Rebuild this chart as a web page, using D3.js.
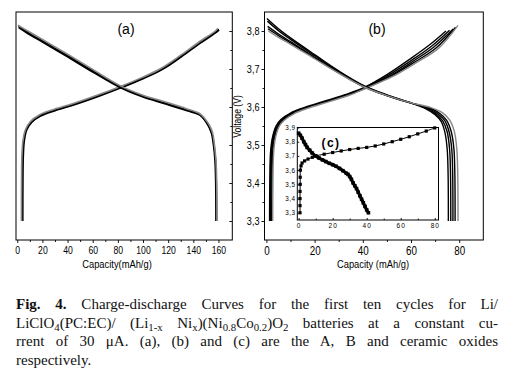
<!DOCTYPE html>
<html>
<head>
<meta charset="utf-8">
<script src="https://cdn.jsdelivr.net/npm/d3@7"></script>
<style>
  body { margin: 0; background: #fff; }
  #wrap { position: relative; width: 506px; height: 384px; overflow: hidden; }
  svg { position: absolute; left: 0; top: 0; font-family: "Liberation Sans", Arial, sans-serif; }
  .cap {
    position: absolute; left: 16px; width: 482px;
    font-family: "Liberation Serif", "Times New Roman", serif;
    font-size: 15px; line-height: 18.7px; color: #111;
    text-align: justify; text-align-last: justify;
  }
  .cap.last { text-align-last: left; }
  .cap sub { font-size: 0.72em; vertical-align: -0.3em; line-height: 0; }
</style>
</head>
<body>
<div id="wrap"></div>
<script>
// tick values
const ticksXA = [0, 20, 40, 60, 80, 100, 120, 140, 160];
const minorXA = [10, 30, 50, 70, 90, 110, 130, 150];
const ticksXB = [0, 20, 40, 60, 80];
const minorXB = [10, 30, 50, 70];
const ticksV = [3.3, 3.4, 3.5, 3.6, 3.7, 3.8];
const minorV = [3.35, 3.45, 3.55, 3.65, 3.75];
const ticksXC = [0, 20, 40, 60, 80];
const minorXC = [10, 30, 50, 70];
const ticksVC = [3.3, 3.4, 3.5, 3.6, 3.7, 3.8, 3.9];

// panel (a): [capacity mAh/g, voltage V], one array per cycle
const chargeA = [
  [[3.8,3.30],[3.9,3.40],[4.2,3.47],[5,3.51],[7,3.54],[11,3.56],[18,3.577],[30,3.592],[45,3.607],[65,3.630],[82.5,3.652],[100,3.676],[115,3.70],[130,3.733],[145,3.769],[158,3.798],[160,3.805]],
  [[4.4,3.30],[4.5,3.40],[4.8,3.47],[5.6,3.51],[7.6,3.54],[11.6,3.56],[18.5,3.576],[30.5,3.591],[45.5,3.606],[65.5,3.629],[83,3.651],[100.5,3.675],[115.5,3.699],[130.5,3.732],[145.5,3.768],[158.5,3.797],[160.5,3.803]],
  [[3.3,3.30],[3.4,3.40],[3.7,3.47],[4.5,3.51],[6.5,3.54],[10.5,3.562],[17.5,3.579],[29.5,3.594],[44.5,3.609],[64.5,3.632],[82,3.654],[99.5,3.678],[114.5,3.702],[129.5,3.735],[144.5,3.771],[157.5,3.800],[159.5,3.807]]
];
const dischargeA = [
  [[0.8,3.812],[10,3.793],[20,3.774],[40,3.735],[60,3.695],[82.5,3.652],[100,3.628],[118,3.610],[135,3.592],[145,3.580],[149,3.566],[152,3.550],[154.5,3.530],[156,3.50],[157.2,3.46],[157.8,3.40],[158,3.30]],
  [[1.2,3.809],[10,3.790],[20,3.771],[40,3.732],[60,3.692],[82.5,3.650],[100,3.626],[118,3.608],[135,3.590],[145.5,3.578],[149.5,3.564],[152.5,3.548],[155,3.528],[156.5,3.50],[157.7,3.46],[158.3,3.40],[158.5,3.30]],
  [[0.5,3.815],[10,3.797],[20,3.778],[40,3.739],[60,3.699],[82.5,3.655],[100,3.631],[118,3.613],[135,3.595],[145,3.583],[149.5,3.568],[152.8,3.552],[155.3,3.532],[156.8,3.50],[158,3.46],[158.6,3.40],[158.8,3.30]]
];

// panel (b)
const chargeB = [
  [[1.3,3.30],[1.4,3.40],[1.7,3.48],[2.5,3.52],[4,3.55],[6,3.567],[10,3.584],[15,3.597],[25,3.617],[33,3.633],[40.8,3.652],[50,3.685],[60,3.728],[68,3.765],[74.5,3.800]],
  [[1.8,3.30],[1.9,3.40],[2.2,3.48],[3,3.52],[4.5,3.55],[6.5,3.566],[10.5,3.583],[15.5,3.596],[25.5,3.616],[33.5,3.632],[41,3.651],[50.5,3.683],[60.5,3.724],[68.5,3.760],[76,3.802]],
  [[2.2,3.30],[2.3,3.40],[2.6,3.48],[3.4,3.52],[5,3.55],[7,3.566],[11,3.583],[16,3.596],[26,3.616],[34,3.632],[41.2,3.651],[51,3.681],[61,3.721],[69.5,3.758],[77.5,3.805]],
  [[1.6,3.30],[1.7,3.40],[2,3.48],[2.8,3.52],[4.3,3.55],[6.3,3.566],[10.3,3.583],[15.3,3.596],[25.3,3.616],[33.3,3.632],[41.3,3.650],[51.5,3.680],[61.5,3.718],[70.5,3.756],[78.5,3.810]],
  [[2.6,3.30],[2.7,3.40],[3,3.48],[3.8,3.52],[5.4,3.55],[7.4,3.565],[11.4,3.582],[16.4,3.595],[26.4,3.615],[34.4,3.631],[41.5,3.650],[52,3.679],[62,3.716],[71.5,3.755],[79.5,3.815]]
];
const dischargeB = [
  [[0.2,3.833],[5,3.806],[10,3.782],[20,3.738],[30,3.695],[40.8,3.655],[50,3.632],[60,3.611],[66,3.596],[70,3.580],[72.5,3.562],[74,3.535],[75,3.49],[75.4,3.42],[75.5,3.30]],
  [[0.4,3.826],[5,3.801],[10,3.778],[20,3.735],[30,3.693],[40.8,3.654],[50,3.631],[60,3.611],[66.5,3.597],[70.5,3.581],[73.2,3.563],[75,3.535],[76,3.49],[76.4,3.42],[76.5,3.30]],
  [[0.5,3.812],[5,3.792],[10,3.772],[20,3.731],[30,3.691],[40.8,3.653],[50,3.630],[60,3.610],[67,3.597],[71.2,3.582],[74,3.564],[75.8,3.535],[76.9,3.49],[77.3,3.42],[77.4,3.30]],
  [[0.6,3.806],[5,3.788],[10,3.769],[20,3.729],[30,3.690],[40.8,3.652],[50,3.630],[60,3.610],[67.5,3.598],[72,3.583],[74.8,3.565],[76.7,3.535],[77.8,3.49],[78.2,3.42],[78.3,3.30]],
  [[0.8,3.800],[5,3.783],[10,3.765],[20,3.727],[30,3.689],[40.8,3.652],[50,3.630],[60,3.611],[68,3.599],[73,3.585],[76,3.566],[78,3.535],[79,3.49],[79.4,3.42],[79.5,3.30]]
];

// inset (c)
const chargeC = [[0.8,3.30],[0.8,3.35],[0.8,3.40],[0.8,3.45],[0.9,3.50],[0.9,3.55],[1.0,3.60],[1.4,3.63],[2,3.65],[3.5,3.665],[5.5,3.678],[8,3.69],[10,3.70],[15,3.712],[20,3.724],[25,3.735],[30,3.745],[35,3.753],[40,3.760],[45,3.770],[50,3.784],[55,3.800],[60,3.817],[65,3.835],[70,3.855],[75,3.875],[80,3.897]];
const dischargeC = [[0,3.86],[1,3.845],[2,3.825],[3,3.80],[4,3.78],[5,3.76],[6.5,3.74],[8,3.72],[10,3.70],[12,3.685],[14,3.672],[16,3.66],[18,3.648],[20,3.638],[22,3.627],[24,3.612],[26,3.596],[28,3.578],[29,3.57],[30,3.555],[31,3.535],[32,3.51],[33,3.49],[34,3.47],[35,3.445],[36,3.42],[37,3.395],[38,3.37],[39,3.345],[40,3.32],[41,3.30]];

const W = 506, H = 384;
const comma = d3.formatLocale({ decimal: ",", thousands: ".", grouping: [3], currency: ["", ""] }).format(".1f");

const svg = d3.select("#wrap").append("svg").attr("width", W).attr("height", H);
svg.append("rect").attr("width", W).attr("height", H).attr("fill", "#fff");

// frames
const frameA = { x0: 16, x1: 232.3, y0: 12, y1: 240 };
const frameB = { x0: 264.5, x1: 483.3, y0: 12, y1: 240 };
const frameC = { x0: 297.3, x1: 438.5, y0: 127.5, y1: 220 };

// scales
const xA = d3.scaleLinear().domain([-1, 171]).range([frameA.x0, frameA.x1]);
const xB = d3.scaleLinear().domain([-0.8, 90]).range([frameB.x0, frameB.x1]);
const yV = d3.scaleLinear().domain([3.25, 3.85]).range([240, 12]);
const xC = d3.scaleLinear().domain([-0.8, 82.2]).range([frameC.x0, frameC.x1]);
const yC = d3.scaleLinear().domain([3.249, 3.9]).range([frameC.y1, frameC.y0]);

function lineOf(x, y) {
  return d3.line().x(d => x(d[0])).y(d => y(d[1])).curve(d3.curveCatmullRom.alpha(0.5));
}

function cleanAxis(g) {
  g.select(".domain").remove();
  g.selectAll(".tick line").attr("stroke", "#000").attr("stroke-width", 0.9);
  g.selectAll("text").attr("fill", "#000");
}

// condensed look of the original labels
function narrowLabels(sel, size, sx) {
  sel.selectAll("text").attr("font-size", size)
    .attr("transform", `scale(${sx},1)`);
}

function title(g, x, y, txt, size, rot) {
  g.append("text")
    .attr("transform", `translate(${x},${y})${rot ? " rotate(-90)" : ""} scale(0.82,1)`)
    .attr("text-anchor", "middle").attr("font-size", size).attr("fill", "#000")
    .text(txt);
}

// ---- panel (a)
const pa = svg.append("g");
const lineA = lineOf(xA, yV);
pa.selectAll("path.ca").data(chargeA).join("path")
  .attr("class", "ca").attr("d", lineA).attr("fill", "none")
  .attr("stroke", (d, i) => i === 2 ? "#888" : "#000").attr("stroke-width", 1.6);
pa.selectAll("path.da").data(dischargeA).join("path")
  .attr("class", "da").attr("d", lineA).attr("fill", "none")
  .attr("stroke", (d, i) => i === 2 ? "#888" : "#000").attr("stroke-width", 1.6);

pa.append("g")
  .attr("transform", `translate(0,${frameA.y1})`)
  .call(d3.axisBottom(xA).tickValues(ticksXA).tickSize(3).tickPadding(3))
  .call(cleanAxis)
  .call(narrowLabels, 10.8, 0.8);
pa.append("g").attr("transform", `translate(0,${frameA.y1})`)
  .call(d3.axisBottom(xA).tickValues(minorXA).tickSize(2).tickFormat(""))
  .call(cleanAxis);
pa.append("g").attr("transform", `translate(${frameA.x1},0)`)
  .call(d3.axisLeft(yV).tickValues(ticksV).tickSize(3).tickFormat(""))
  .call(cleanAxis);
pa.append("g").attr("transform", `translate(${frameA.x1},0)`)
  .call(d3.axisLeft(yV).tickValues(minorV).tickSize(2).tickFormat(""))
  .call(cleanAxis);
pa.append("rect")
  .attr("x", frameA.x0).attr("y", frameA.y0)
  .attr("width", frameA.x1 - frameA.x0).attr("height", frameA.y1 - frameA.y0)
  .attr("fill", "none").attr("stroke", "#000").attr("stroke-width", 1);
pa.append("text").attr("x", 126).attr("y", 34).attr("text-anchor", "middle")
  .attr("font-size", 14).text("(a)");
title(pa, 117, 268, "Capacity(mAh/g)", 11.4);

// ---- panel (b)
const pb = svg.append("g");
const lineB = lineOf(xB, yV);
pb.selectAll("path.cb").data(chargeB).join("path")
  .attr("class", "cb").attr("d", lineB).attr("fill", "none")
  .attr("stroke", (d, i) => i === 4 ? "#888" : "#000").attr("stroke-width", 1.4);
pb.selectAll("path.db").data(dischargeB).join("path")
  .attr("class", "db").attr("d", lineB).attr("fill", "none")
  .attr("stroke", (d, i) => i === 4 ? "#888" : "#000").attr("stroke-width", 1.4);

pb.append("g")
  .attr("transform", `translate(0,${frameB.y1})`)
  .call(d3.axisBottom(xB).tickValues(ticksXB).tickSize(3).tickPadding(3))
  .call(cleanAxis)
  .call(narrowLabels, 12, 0.82);
pb.append("g").attr("transform", `translate(0,${frameB.y1})`)
  .call(d3.axisBottom(xB).tickValues(minorXB).tickSize(2).tickFormat(""))
  .call(cleanAxis);
const yAxisB = pb.append("g")
  .attr("transform", `translate(${frameB.x0},0)`)
  .call(d3.axisLeft(yV).tickValues(ticksV).tickSize(3).tickPadding(2).tickFormat(comma))
  .call(cleanAxis);
// scaled around the label's right end so it stays next to the tick
yAxisB.selectAll("text").attr("font-size", 11)
  .attr("transform", "translate(-5,0) scale(0.83,1) translate(5,0)");
pb.append("g").attr("transform", `translate(${frameB.x0},0)`)
  .call(d3.axisLeft(yV).tickValues(minorV).tickSize(2).tickFormat(""))
  .call(cleanAxis);
pb.append("rect")
  .attr("x", frameB.x0).attr("y", frameB.y0)
  .attr("width", frameB.x1 - frameB.x0).attr("height", frameB.y1 - frameB.y0)
  .attr("fill", "none").attr("stroke", "#000").attr("stroke-width", 1);
pb.append("text").attr("x", 377).attr("y", 34).attr("text-anchor", "middle")
  .attr("font-size", 14).text("(b)");
title(pb, 373, 268, "Capacity (mAh/g)", 11.4);
title(pb, 240.5, 116.5, "Voltage (V)", 10.5, true);

// ---- inset (c)
const pc = svg.append("g");
pc.append("rect")
  .attr("x", frameC.x0).attr("y", frameC.y0)
  .attr("width", frameC.x1 - frameC.x0).attr("height", frameC.y1 - frameC.y0)
  .attr("fill", "#fff").attr("stroke", "#000").attr("stroke-width", 1);
const lineC = lineOf(xC, yC);
pc.append("path").datum(chargeC).attr("d", lineC).attr("fill", "none")
  .attr("stroke", "#000").attr("stroke-width", 1);
pc.append("path").datum(dischargeC).attr("d", lineC).attr("fill", "none")
  .attr("stroke", "#000").attr("stroke-width", 3.2);
pc.selectAll("rect.mc").data(chargeC).join("rect").attr("class", "mc")
  .attr("x", d => xC(d[0]) - 1.6).attr("y", d => yC(d[1]) - 1.6)
  .attr("width", 3.2).attr("height", 3.2).attr("fill", "#000");
pc.selectAll("rect.md").data(dischargeC).join("rect").attr("class", "md")
  .attr("x", d => xC(d[0]) - 1.8).attr("y", d => yC(d[1]) - 1.8)
  .attr("width", 3.6).attr("height", 3.6).attr("fill", "#000");

pc.append("g")
  .attr("transform", `translate(0,${frameC.y1})`)
  .call(d3.axisBottom(xC).tickValues(ticksXC).tickSize(-2).tickPadding(3))
  .call(cleanAxis)
  .selectAll("text").attr("font-size", 6.5).attr("letter-spacing", 1);
pc.append("g")
  .attr("transform", `translate(0,${frameC.y1})`)
  .call(d3.axisBottom(xC).tickValues(minorXC).tickSize(-1.5).tickFormat(""))
  .call(cleanAxis);
pc.append("g")
  .attr("transform", `translate(${frameC.x0},0)`)
  .call(d3.axisLeft(yC).tickValues(ticksVC).tickSize(-2).tickPadding(2).tickFormat(comma))
  .call(cleanAxis)
  .selectAll("text").attr("font-size", 6.3).attr("letter-spacing", 0.4);
pc.append("text").attr("x", 331).attr("y", 146.5).attr("text-anchor", "middle")
  .attr("font-weight", "bold").attr("font-size", 12).attr("letter-spacing", 1.5).text("(c)");

// ---- caption
const capLines = [
  "<b>Fig. 4.</b> Charge-discharge Curves for the first ten cycles for Li/",
  "LiClO<sub>4</sub>(PC:EC)/ (Li<sub>1-x</sub> Ni<sub>x</sub>)(Ni<sub>0.8</sub>Co<sub>0.2</sub>)O<sub>2</sub> batteries at a constant cu-",
  "rrent of 30 μA. (a), (b) and (c) are the A, B and ceramic oxides",
  "respectively."
];
d3.select("#wrap").selectAll("div.cap").data(capLines).join("div")
  .attr("class", (d, i) => i === capLines.length - 1 ? "cap last" : "cap")
  .style("top", (d, i) => (295 + i * 18.7) + "px")
  .html(d => d);
</script>
</body>
</html>
